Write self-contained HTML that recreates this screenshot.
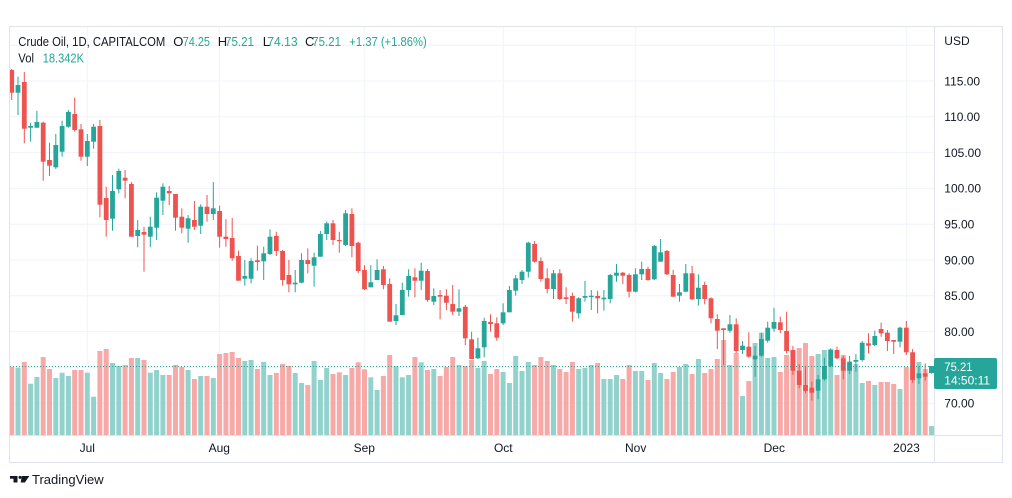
<!DOCTYPE html>
<html><head><meta charset="utf-8"><style>
html,body{margin:0;padding:0;background:#fff;width:1012px;height:498px;overflow:hidden}
svg{display:block;font-family:"Liberation Sans",Arial,sans-serif}
</style></head><body>
<svg id="s" width="1012" height="498" viewBox="0 0 1012 498" xmlns="http://www.w3.org/2000/svg">
<defs><clipPath id="pc"><rect x="10" y="27" width="924" height="408"/></clipPath></defs>
<rect x="0" y="0" width="1012" height="498" fill="#fff"/>
<g stroke="#f0f3fa" stroke-width="1">
<line x1="10" x2="934" y1="45.2" y2="45.2"/><line x1="10" x2="934" y1="81" y2="81"/><line x1="10" x2="934" y1="116.8" y2="116.8"/><line x1="10" x2="934" y1="152.6" y2="152.6"/><line x1="10" x2="934" y1="188.4" y2="188.4"/><line x1="10" x2="934" y1="224.2" y2="224.2"/><line x1="10" x2="934" y1="260" y2="260"/><line x1="10" x2="934" y1="295.8" y2="295.8"/><line x1="10" x2="934" y1="331.6" y2="331.6"/><line x1="10" x2="934" y1="367.4" y2="367.4"/><line x1="10" x2="934" y1="403.2" y2="403.2"/>
<line x1="87.3" x2="87.3" y1="27" y2="435"/><line x1="219.3" x2="219.3" y1="27" y2="435"/><line x1="364.3" x2="364.3" y1="27" y2="435"/><line x1="503.3" x2="503.3" y1="27" y2="435"/><line x1="635.7" x2="635.7" y1="27" y2="435"/><line x1="774.3" x2="774.3" y1="27" y2="435"/><line x1="906.7" x2="906.7" y1="27" y2="435"/>
</g>
<g clip-path="url(#pc)"><g id="vol"></g><g id="cdl"></g>
<line x1="10" x2="934" y1="366.5" y2="366.5" stroke="#26a69a" stroke-width="1" stroke-dasharray="1,2"/>
</g>
<g fill="none" stroke="#e0e3eb" stroke-width="1">
<rect x="9.5" y="26.5" width="993" height="436"/>
<line x1="934.5" x2="934.5" y1="26.5" y2="462.5"/>
<line x1="9.5" x2="1002.5" y1="435.5" y2="435.5"/>
</g>
<g font-size="13">
<text x="18.3" y="46" fill="#131722" textLength="147" lengthAdjust="spacingAndGlyphs">Crude Oil, 1D, CAPITALCOM</text>
<text x="173.3" y="46" fill="#131722">O</text><text x="182.7" y="46" fill="#26a69a" textLength="27.3" lengthAdjust="spacingAndGlyphs">74.25</text>
<text x="217.7" y="46" fill="#131722">H</text><text x="225" y="46" fill="#26a69a" textLength="29" lengthAdjust="spacingAndGlyphs">75.21</text>
<text x="262.7" y="46" fill="#131722">L</text><text x="267.3" y="46" fill="#26a69a" textLength="30.4" lengthAdjust="spacingAndGlyphs">74.13</text>
<text x="305" y="46" fill="#131722">C</text><text x="312.3" y="46" fill="#26a69a" textLength="28.7" lengthAdjust="spacingAndGlyphs">75.21</text>
<text x="349.3" y="46" fill="#26a69a" textLength="77.4" lengthAdjust="spacingAndGlyphs">+1.37 (+1.86%)</text>
<text x="18.3" y="62.7" fill="#131722" textLength="15.7" lengthAdjust="spacingAndGlyphs">Vol</text>
<text x="42.7" y="62.7" fill="#26a69a" textLength="41.3" lengthAdjust="spacingAndGlyphs">18.342K</text>
</g>
<g font-size="12" fill="#131722">
<text x="944.3" y="45">USD</text>
<text x="944.3" y="85.3">115.00</text><text x="944.3" y="121.1">110.00</text><text x="944.3" y="156.9">105.00</text><text x="944.3" y="192.7">100.00</text><text x="944.3" y="228.5">95.00</text><text x="944.3" y="264.3">90.00</text><text x="944.3" y="300.1">85.00</text><text x="944.3" y="335.9">80.00</text><text x="944.3" y="407.5">70.00</text>
</g>
<g font-size="12" fill="#131722" text-anchor="middle">
<text x="87.3" y="452">Jul</text><text x="219.3" y="452">Aug</text><text x="364.3" y="452">Sep</text><text x="503.3" y="452">Oct</text><text x="635.7" y="452">Nov</text><text x="774.3" y="452">Dec</text><text x="906.5" y="452">2023</text>
</g>
<rect x="934" y="358" width="63" height="31" rx="2" fill="#26a69a"/>
<rect x="929" y="366" width="6" height="7" fill="#26a69a"/>
<g font-size="12" fill="#fff">
<text x="944.3" y="371" textLength="28.3" lengthAdjust="spacingAndGlyphs">75.21</text>
<text x="944.3" y="384.5" textLength="45.7" lengthAdjust="spacingAndGlyphs">14:50:11</text>
</g>
<g fill="#131722">
<rect x="10" y="476" width="7.5" height="2.7"/><rect x="13.5" y="476" width="4" height="6.5"/><circle cx="20" cy="477.4" r="1.5"/><path d="M21.8 476h7.5l-4.4 6.5h-4.2z"/>
<text x="32" y="484" font-size="13" textLength="71.6" lengthAdjust="spacingAndGlyphs">TradingView</text>
</g>
</svg>
<script>
const C=[[0,70,92.7,69,100],[1,85,92.7,76.7,115],[0,82,128.7,72,143.3],[1,126,127.7,122.7,141.7],[1,122,127.7,110.7,127.7],[0,122.7,161.7,121.7,180.7],[0,160,165.7,142.7,176],[1,145,167.3,134,169],[1,126,151.7,120.7,156.7],[1,112,126.7,110,127.7],
[0,114,130,97.7,131.7],[0,129.3,156.7,124,160.7],[1,141,156.7,134,166],[1,126.7,141.7,124,148.7],[0,126,204.7,120,217.3],[0,198,220,186.7,236.7],[1,191,218.7,175,230.7],[1,171,189.3,168.7,193.3],[0,177.7,180.7,170,198.3],[0,184,236.7,182,236.7],
[1,230,236,220,247.3],[0,232,234.7,226.7,271.7],[1,226.7,236.7,216.7,247.3],[1,197.7,227.7,192.3,240],[1,186.7,200.7,183.3,215],[0,191,193.3,186,205],[0,194,217.7,194,230.7],[0,216.7,227.7,208.3,233.3],[1,218.3,228.7,215,242.7],[0,220,226.7,201,230],
[1,206.7,225.7,204.3,234],[0,206.7,214,195,221.7],[1,208.3,214,182,220],[0,211,236.7,205.7,247.7],[0,236.7,239,219.3,246.7],[0,238,258.3,218,260.7],[0,256,280.7,250.7,280.7],[1,276,278.7,260,285.7],[1,261,278.7,258.3,283.3],[0,260.3,262,245.7,270.7],
[1,253.3,261.3,246.7,280],[1,236.7,254,229.3,255],[0,236,251,231.7,256],[0,251,280,250,285.7],[0,275,284.3,260,292.3],[1,282.7,284.3,270,292.3],[1,260,282.7,253.3,283.3],[0,260,264,248.3,273.3],[1,257.3,265.7,252.7,286.7],[1,234,256.7,231,256.7],
[1,223.3,234,221.7,240],[0,223.3,240,220,245],[0,240,241,231.7,252.7],[1,213.3,245,210,246],[0,214,246,208.3,257.3],[0,242.7,271,241.7,273.3],[0,270,289.3,265.3,290],[1,282.3,287.3,265.3,287.3],[1,270,280,259.3,280],[0,269.3,285,266,289.3],
[0,284,321.7,278.3,321.7],[1,315.3,321,304,325],[1,290,315,282.7,315],[1,276,290,269.3,296.7],[0,277.3,280.7,268.3,297.3],[1,270.7,280.7,262.7,290],[0,271,300,269,301.7],[1,296,301.7,288.3,305],[0,295,296.7,290,319.3],[0,295.7,302.7,289.3,310],
[0,304,311.7,285,315],[1,308.3,311.7,289.3,316],[0,306.7,338.3,305,345],[0,339.3,359,331.7,359],[1,348.3,358.3,337.7,359],[1,321,347.3,317.7,357.3],[0,322,324,314.3,331.7],[0,323.3,337.7,317.3,340.7],[1,312.3,323.3,303.3,325],[1,290,312.3,286,312.3],
[1,278.3,290.7,275,295.7],[1,271.7,280,270,284],[1,242.7,271.7,241.7,277.7],[0,244,261.7,241,262.7],[0,261,279,257.3,281.7],[0,278.3,289,268.3,293.3],[1,273.3,289,270,299],[0,273.3,299,269.3,300],[0,297.3,299,287.3,304],[0,296,311.7,292.7,321.7],
[1,298.3,313.3,297.3,318.3],[1,296,297.7,281,301.7],[1,295.7,297,290,310],[0,296,298.3,290.7,313.3],[1,297.7,299.3,290,310.7],[1,275,299,274,303.3],[1,272.7,275.7,264,281.7],[0,272.7,275.7,272,284],[0,275,291.7,273.3,297.3],[1,274.3,291.7,268.3,292.3],
[1,269,274.3,261.7,280],[0,269,280,266.7,280.7],[1,246,279.3,245,280],[1,252.3,261.7,239,261.7],[0,251,274.3,250,275],[0,275,296.7,270,296.7],[1,292.3,295.7,284,301.7],[1,273.3,291.7,264,292.3],[0,273.3,299.3,266,300],[1,287.7,299,274.3,305.7],
[0,285,299,281.7,304.3],[0,298.3,318.3,297.3,323.3],[0,319,330.7,314.3,349],[0,328.3,330,328.3,365],[1,324.3,330.7,315,332.7],[0,324.3,351,318.3,353.3],[1,345.7,350,341,354],[0,346.7,356.7,332.3,357.7],[1,355.7,359.3,346,376.7],[1,339,355.7,332.7,356.7],
[1,327.7,340.7,321.7,342.7],[1,322,328.7,307.7,331.7],[0,322.3,330,316.7,333.3],[0,331,351,311.7,353.3],[0,350,370.7,346,375],[0,370.7,385,364,388.3],[0,385,391,366,393.3],[0,387.7,392.7,381.7,400.7],[1,379.3,390.7,375,399.3],[1,366,379.3,357.7,380.7],
[1,350,366,348.3,367.3],[0,350,358.3,346.7,359.3],[0,358.3,370.7,356,379.3],[1,361.7,370.7,356,374],[1,360,361.7,354,371.7],[1,342.7,360,341,361.7],[0,343.3,345.7,333.3,353.3],[1,336,345,330.7,346],[0,329,333.3,322.7,336.7],[0,332.7,341,330,351],
[0,340,341.7,340,354],[1,327.7,341.7,326.7,347.3],[0,327.7,352.3,321,355],[0,352.3,380,349,382.7],[1,373.3,378.3,366,384],[0,373.3,376.7,363.3,380.7],[1,366,373,366,373.6]];
const V=[366.7,367.7,362,383.7,377,357,369,378,372.7,376,370,370,372.7,396.7,351,349,363,366,365,358,358,360,372.7,370,375,
375,365,367,370,379,376,376,378,354,353,352,358,361,360,369,362,375,373,364,366,373,383,385,
361,380,368,374,372.3,375,368,362.3,369.3,377.3,390,376,355,366,377.3,375,357,362.3,370,369,376,367,357,365,366,360,
368,361,374,369,372,383,356,371,362,365,357,361,365,369,372,362,369,368,365,363,379,379,375,379,365,
371,371,380,363,373,379,372,367,364,374,359,373,369,359,340,365,353,396,381,343,332.7,358,357,372,
355,350,348,343,356,354,350,349,375,355,364,364,383,381,385,382,382,384,389,367,367,362,369,426];
let vs='',cs='';
for(let i=0;i<C.length;i++){
 const x=11.7+6.3*i,d=C[i],g=d[0],col=g?'#26a69a':'#ef5350';
 const vt=V[i]!==undefined?V[i]:400;
 vs+='<rect x="'+(x-2.5).toFixed(2)+'" y="'+vt+'" width="5" height="'+(435-vt).toFixed(2)+'" fill="'+(g?'#92d2cc':'#f7a9a7')+'"/>';
 cs+='<rect x="'+(x-0.5).toFixed(2)+'" y="'+d[3]+'" width="1" height="'+(d[4]-d[3]).toFixed(2)+'" fill="'+col+'"/>';
 const h=Math.max(d[2]-d[1],1.2);
 cs+='<rect x="'+(x-2.4).toFixed(2)+'" y="'+d[1]+'" width="4.8" height="'+h.toFixed(2)+'" fill="'+col+'"/>';
}
document.getElementById('vol').innerHTML=vs;
document.getElementById('cdl').innerHTML=cs;
</script>
</body></html>
